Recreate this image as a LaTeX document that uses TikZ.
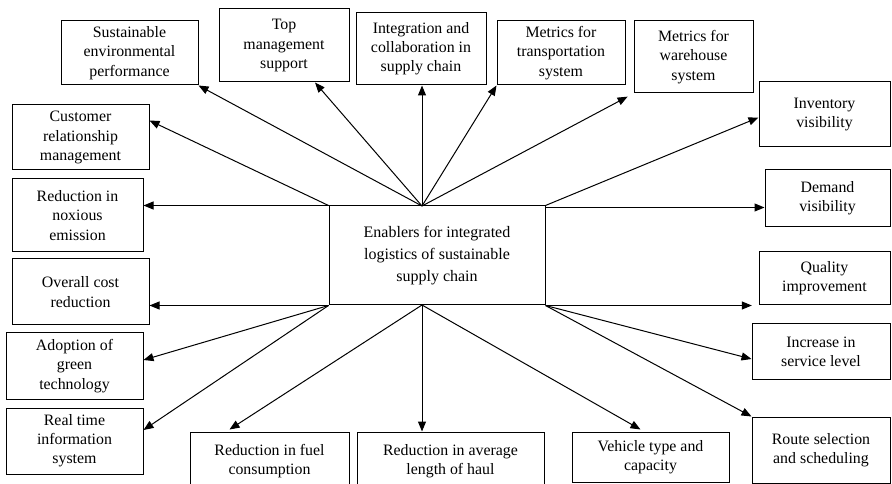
\documentclass[tikz,border=0pt]{standalone}
\usepackage{fontspec}
\setmainfont{Liberation Serif}
\usetikzlibrary{arrows.meta,calc}
\newdimen\pxu \pxu=0.75pt
% \enabler{name}{left}{top}{right}{bottom}{text}
\newcommand\enabler[6]{%
  \node[box, minimum width={(#4-#2)*\pxu}, minimum height={(#5-#3)*\pxu}]
    (#1) at ({(#2+#4)/2},{(#3+#5)/2}) {#6};}
\begin{document}
\begin{tikzpicture}[x=0.75pt,y=-0.75pt,
  box/.style={draw, line width=0.75pt, align=center, inner sep=0pt,
    font=\fontsize{11.9}{14.4}\selectfont},
  hubbox/.style={box, font=\fontsize{12}{16.2}\selectfont},
  link/.style={line width=0.75pt, -{Triangle[length=7.5pt,width=6pt]}}]
\clip (0,0) rectangle (892,484);

% central box
\node[hubbox, minimum width=216*\pxu, minimum height=99*\pxu] (hub) at (437,255.5)
  {Enablers for integrated\\logistics of sustainable\\supply chain};
\coordinate (hubtop) at (422,206);
\coordinate (hubbot) at (422,305);

% surrounding enablers
\enabler{sus}{61}{21}{198}{85}{Sustainable\\environmental\\performance}
\enabler{top}{219}{9}{349}{82}{Top\\management\\support}
\enabler{integ}{356}{13}{486}{85}{Integration and\\collaboration in\\supply chain}
\enabler{trans}{497}{21}{625}{85}{Metrics for\\transportation\\system}
\enabler{ware}{634}{21}{753}{93}{Metrics for\\warehouse\\system}
\enabler{inv}{759}{82}{890}{147}{Inventory\\visibility}
\enabler{cust}{12}{105}{149}{170}{Customer\\relationship\\management}
\enabler{nox}{12}{179}{143}{252}{Reduction in\\noxious\\emission}
\enabler{dem}{765}{170}{890}{227}{Demand\\visibility}
\enabler{cost}{12}{259}{149}{325}{Overall cost\\reduction}
\enabler{qual}{759}{252}{890}{305}{Quality\\improvement}
\enabler{adopt}{6}{333}{143}{399}{Adoption of\\green\\technology}
\enabler{serv}{752}{324}{890}{380}{Increase in\\service level}
\enabler{real}{6}{408}{143}{474}{Real time\\information\\system}
\enabler{fuel}{190}{432}{349}{491}{Reduction in fuel\\consumption}
\enabler{avg}{357}{432}{544}{491}{Reduction in average\\length of haul}
\enabler{veh}{572}{432}{729}{482}{Vehicle type and\\capacity}
\enabler{route}{752}{417}{890}{483}{Route selection\\and scheduling}

% links from the upper edge
\draw[link] (hub.north west) -- ($(cust.east)+(0,-17)$);
\draw[link] (hub.north west) -- (nox.east |- hub.north west);
\draw[link] (hubtop) -- (sus.south east);
\draw[link] (hubtop) -- ($(top.south)+(31,0)$);
\draw[link] (hubtop) -- (hubtop |- integ.south);
\draw[link] (hubtop) -- (trans.south west);
\draw[link, shorten >=5pt] (hubtop) -- (ware.south west);
\draw[link] (hub.north east) -- ($(inv.west)+(0,3)$);
\coordinate (demstart) at ($(hub.north east)+(0,2)$);
\draw[link] (demstart) -- (dem.west |- demstart);

% links from the lower edge
\draw[link] (hub.south west) -- (cost.east |- hub.south west);
\draw[link] (hub.south west) -- ($(adopt.east)+(0,-6)$);
\draw[link] (hub.south west) -- ($(real.east)+(0,-11)$);
\draw[link] (hubbot) -- ($(fuel.north)+(-40,-2)$);
\draw[link] (hubbot) -- (hubbot |- avg.north);
\draw[link] (hubbot) -- ($(veh.north)+(-10,-2)$);
\draw[link, shorten >=5pt] (hub.south east) -- (qual.west |- hub.south east);
\draw[link] (hub.south east) -- ($(serv.west)+(0,7)$);
\draw[link] (hub.south east) -- (route.north west);
\end{tikzpicture}
\end{document}
